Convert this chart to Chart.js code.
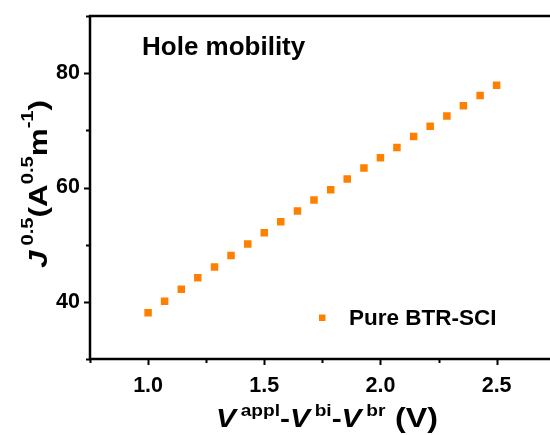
<!DOCTYPE html>
<html>
<head>
<meta charset="utf-8">
<title>Hole mobility</title>
<script src="https://cdn.jsdelivr.net/npm/chart.js@4.4.1/dist/chart.umd.min.js"></script>
<style>
  html, body { margin: 0; padding: 0; background: #fff; overflow: hidden; }
  #wrap { width: 560px; height: 435px; }
</style>
</head>
<body>
<div id="wrap"><canvas id="mobilityChart" width="560" height="435"></canvas></div>
<script>
// data
const voltage = [1.000, 1.071, 1.143, 1.214, 1.286, 1.357, 1.429, 1.500, 1.571, 1.643, 1.714,
                 1.786, 1.857, 1.929, 2.000, 2.071, 2.143, 2.214, 2.286, 2.357, 2.429, 2.500];
const sqrtCurrent = [38.1, 40.1, 42.2, 44.2, 46.1, 48.1, 50.1, 52.1, 54.0, 55.9, 57.8,
                     59.6, 61.5, 63.4, 65.2, 67.0, 68.9, 70.7, 72.5, 74.3, 76.1, 77.9];
const xTickLabels = ['1.0', '1.5', '2.0', '2.5'];
const yTickLabels = ['40', '60', '80'];
const seriesName = 'Pure BTR-SCI';
const chartTitle = 'Hole mobility';

const FONT = '"Liberation Sans", Arial, sans-serif';
const ORANGE = '#ff8000';

// draws a row of text pieces (super scripts, italics), centred on x, stretched to width
function drawRich(ctx, parts, x, y, width) {
    let total = 0;
    parts.forEach(p => {
        ctx.font = p.font;
        p.w = ctx.measureText(p.text).width;
        total += p.w + (p.gap || 0);
    });
    const s = width / total;
    ctx.save();
    ctx.translate(x, y);
    ctx.scale(s, 1);
    let cx = -total / 2;
    parts.forEach(p => {
        ctx.font = p.font;
        ctx.fillText(p.text, cx, -(p.rise || 0));
        cx += p.w + (p.gap || 0);
    });
    ctx.restore();
}

const decorations = {
    id: 'decorations',
    afterDraw(chart) {
        const ctx = chart.ctx;
        const a = chart.chartArea;
        const xs = chart.scales.x, ys = chart.scales.y;
        ctx.save();
        ctx.strokeStyle = '#000';
        ctx.fillStyle = '#000';

        // frame
        ctx.lineWidth = 2.5;
        ctx.strokeRect(a.left, a.top, a.right - a.left, a.bottom - a.top);

        // outward ticks, long for labelled ones
        ctx.lineWidth = 2;
        ctx.beginPath();
        xs.ticks.forEach(t => {
            const px = Math.round(xs.getPixelForValue(t.value)) + 0.5;
            const len = t.label ? 6 : 4;
            ctx.moveTo(px, a.bottom);
            ctx.lineTo(px, a.bottom + len);
        });
        ys.ticks.forEach(t => {
            const py = Math.round(ys.getPixelForValue(t.value)) + 0.5;
            const len = t.label ? 6 : 4;
            ctx.moveTo(a.left, py);
            ctx.lineTo(a.left - len, py);
        });
        ctx.stroke();

        // title inside the plot
        ctx.textAlign = 'left';
        ctx.textBaseline = 'alphabetic';
        ctx.font = 'bold 26px ' + FONT;
        ctx.fillText(chartTitle, 142, 55);

        // legend
        const ds = chart.data.datasets[0];
        ctx.fillStyle = ds.pointBackgroundColor;
        ctx.fillRect(319, 314.5, 6.5, 6.5);
        ctx.fillStyle = '#000';
        ctx.font = 'bold 22.5px ' + FONT;
        ctx.fillText(ds.label, 349, 324.5);

        // x axis title
        const big = 'bold 25px ' + FONT, bigI = 'italic bold 25px ' + FONT, sm = 'bold 16px ' + FONT;
        drawRich(ctx, [
            { text: 'V', font: bigI, gap: 4 },
            { text: 'appl', font: sm, rise: 11 },
            { text: '-', font: big },
            { text: 'V', font: bigI, gap: 4 },
            { text: 'bi', font: sm, rise: 11 },
            { text: '-', font: big },
            { text: 'V', font: bigI, gap: 4 },
            { text: 'br', font: sm, rise: 11, gap: 8 },
            { text: '(V)', font: 'bold 27px ' + FONT }
        ], 327, 427, 222);

        // y axis title
        const bigY = 'bold 25px ' + FONT, bigYI = 'italic bold 25px ' + FONT, smY = 'bold 16px ' + FONT;
        ctx.save();
        ctx.translate(47, 184);
        ctx.rotate(-Math.PI / 2);
        drawRich(ctx, [
            { text: 'J', font: bigYI, gap: 4 },
            { text: '0.5', font: smY, rise: 14 },
            { text: '(A', font: bigY },
            { text: '0.5', font: smY, rise: 14 },
            { text: 'm', font: bigY },
            { text: '-1', font: smY, rise: 14 },
            { text: ')', font: bigY }
        ], 0, 0, 168);
        ctx.restore();

        ctx.restore();
    }
};

const ctx = document.getElementById('mobilityChart').getContext('2d');
const chart = new Chart(ctx, {
    type: 'scatter',
    data: {
        datasets: [{
            label: seriesName,
            data: voltage.map((v, i) => ({ x: v, y: sqrtCurrent[i] })),
            pointStyle: 'rect',
            pointRadius: 5.3,
            pointBackgroundColor: ORANGE,
            pointBorderWidth: 0,
            showLine: false
        }]
    },
    options: {
        responsive: false,
        animation: false,
        devicePixelRatio: 1,
        layout: { padding: { top: 16, right: 4, left: 0, bottom: 0 } },
        plugins: {
            legend: { display: false },
            tooltip: { enabled: false },
            title: { display: false }
        },
        scales: {
            x: {
                type: 'linear',
                min: 0.75,
                max: 2.75,
                grid: { display: false, drawTicks: false },
                border: { display: false },
                ticks: {
                    stepSize: 0.25,
                    autoSkip: false,
                    maxRotation: 0,
                    padding: 14,
                    color: '#000',
                    font: { family: FONT, size: 21.5, weight: 'bold' },
                    callback: v => {
                        const s = Number(v).toFixed(1);
                        return (xTickLabels.includes(s) && Math.abs(v * 2 - Math.round(v * 2)) < 1e-6) ? s : '';
                    }
                },
                afterFit: s => {
                    s.height = 76;
                    s.paddingLeft = 0;
                    s.paddingRight = 0;
                }
            },
            y: {
                type: 'linear',
                min: 30,
                max: 90,
                grid: { display: false, drawTicks: false },
                border: { display: false },
                ticks: {
                    stepSize: 10,
                    autoSkip: false,
                    padding: 10,
                    color: '#000',
                    font: { family: FONT, size: 21.5, weight: 'bold' },
                    callback: v => yTickLabels.includes(String(v)) ? String(v) : ''
                },
                afterFit: s => {
                    s.width = 90;
                    s.paddingTop = 0;
                    s.paddingBottom = 0;
                }
            }
        }
    },
    plugins: [decorations]
});
</script>
</body>
</html>
